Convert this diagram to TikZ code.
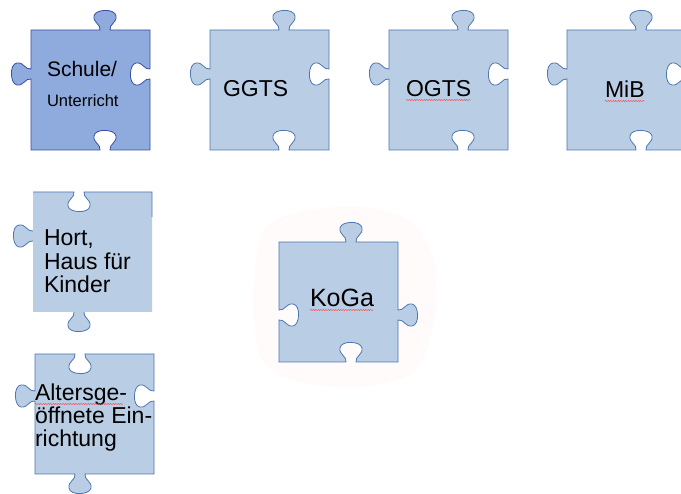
\documentclass[tikz,border=0pt]{standalone}
\usepackage{fontspec}
\setmainfont{Liberation Sans}
\usetikzlibrary{decorations.pathmorphing}

\definecolor{schulefill}{RGB}{143,170,220}
\definecolor{schuleline}{RGB}{58,78,168}
\definecolor{pzfill}{RGB}{185,205,229}
\definecolor{pzline}{RGB}{79,119,180}
\definecolor{blobpink}{RGB}{255,251,250}

\newcommand{\pztabtop}[4]{-- ({#1+#3-5},{#2}) .. controls ({#1+#3-4},{#2-(#4)*6}) and ({#1+#3-12},{#2-(#4)*7}) .. ({#1+#3-11},{#2-(#4)*14}) .. controls ({#1+#3-10},{#2-(#4)*21}) and ({#1+#3+10},{#2-(#4)*22}) .. ({#1+#3+11},{#2-(#4)*14}) .. controls ({#1+#3+12},{#2-(#4)*7}) and ({#1+#3+4},{#2-(#4)*6}) .. ({#1+#3+5},{#2})}
\newcommand{\pztabright}[4]{-- ({#1},{#2+#3-5}) .. controls ({#1+(#4)*6},{#2+#3-4}) and ({#1+(#4)*7},{#2+#3-12}) .. ({#1+(#4)*14},{#2+#3-11}) .. controls ({#1+(#4)*21},{#2+#3-10}) and ({#1+(#4)*22},{#2+#3+10}) .. ({#1+(#4)*14},{#2+#3+11}) .. controls ({#1+(#4)*7},{#2+#3+12}) and ({#1+(#4)*6},{#2+#3+4}) .. ({#1},{#2+#3+5})}
\newcommand{\pztabbottom}[4]{-- ({#1+#3+5},{#2}) .. controls ({#1+#3+4},{#2+(#4)*6}) and ({#1+#3+12},{#2+(#4)*7}) .. ({#1+#3+11},{#2+(#4)*14}) .. controls ({#1+#3+10},{#2+(#4)*21}) and ({#1+#3-10},{#2+(#4)*22}) .. ({#1+#3-11},{#2+(#4)*14}) .. controls ({#1+#3-12},{#2+(#4)*7}) and ({#1+#3-4},{#2+(#4)*6}) .. ({#1+#3-5},{#2})}
\newcommand{\pztableft}[4]{-- ({#1},{#2+#3+5}) .. controls ({#1-(#4)*6},{#2+#3+4}) and ({#1-(#4)*7},{#2+#3+12}) .. ({#1-(#4)*14},{#2+#3+11}) .. controls ({#1-(#4)*21},{#2+#3+10}) and ({#1-(#4)*22},{#2+#3-10}) .. ({#1-(#4)*14},{#2+#3-11}) .. controls ({#1-(#4)*7},{#2+#3-12}) and ({#1-(#4)*6},{#2+#3-4}) .. ({#1},{#2+#3-5})}
\newcommand{\pzpiece}[9]{\path[#1] (#2,#3) \pztabtop{#2}{#3}{#8}{#4} -- ({#2+119},#3) \pztabright{#2+119}{#3}{#9}{#5} -- ({#2+119},{#3+120}) \pztabbottom{#2}{#3+120}{#8}{#6} -- (#2,{#3+120}) \pztableft{#2}{#3}{#9}{#7} -- cycle;}

\tikzset{
    pzdark/.style={fill=schulefill, draw=schuleline, line width=0.8pt},
    pzlight/.style={fill=pzfill, draw=pzline, line width=0.8pt},
    pzlabel/.style={inner sep=0pt, outer sep=0pt, anchor=base west, align=left, text=black},
    spellline/.style={draw=red!75, line width=0.4pt, decorate, decoration={snake, amplitude=0.6pt, segment length=2.5pt}}
}

\begin{document}
\begin{tikzpicture}[x=1pt, y=-1pt]
    \clip (0,0) rectangle (681,494);
    \fill[white] (0,0) rectangle (681,494);
    \path[fill=blobpink] plot[smooth cycle] coordinates {(262,232) (300,212) (360,207) (412,222) (436,270) (432,330) (414,372) (360,387) (300,382) (262,360) (254,300)};
    \pzpiece{pzdark}{31}{30}{1}{-1}{-1}{1}{74}{44}
    \pzpiece{pzlight}{210}{30}{1}{-1}{-1}{1}{74}{44}
    \pzpiece{pzlight}{389}{30}{1}{-1}{-1}{1}{74}{44}
    \pzpiece{pzlight}{567}{30}{1}{-1}{-1}{1}{74}{44}
    \pzpiece{fill=pzfill}{33}{192}{-1}{0}{1}{1}{46}{44}
    \draw[pzline, line width=0.8pt] (33,192) \pztabtop{33}{192}{46}{-1} -- (152,192) -- (152,217);
    \draw[pzline, line width=0.8pt] (33,241) \pztableft{33}{192}{44}{1};
    \draw[pzline, line width=0.8pt] (84,312) \pztabbottom{33}{312}{46}{1};
    \pzpiece{pzlight}{35}{354}{-1}{-1}{1}{1}{45}{42}
    \pzpiece{pzlight}{279}{242}{1}{1}{-1}{-1}{72}{73}
    \node[pzlabel, font=\fontsize{21}{27}\selectfont] (schule) at (47,107) {Schule/\\[3pt]\fontsize{16.5}{20}\selectfont Unterricht};
    \node[pzlabel, font=\fontsize{23}{24}\selectfont] (ggts) at (223,97) {GGTS};
    \node[pzlabel, font=\fontsize{23}{24}\selectfont] (ogts) at (406,97) {OGTS};
    \node[pzlabel, font=\fontsize{23}{24}\selectfont] (mib) at (605,98) {MiB};
    \node[pzlabel, font=\fontsize{25}{26}\selectfont] (koga) at (310,307) {KoGa};
    \node[pzlabel, font=\fontsize{23}{23.5}\selectfont] (hort) at (44,293) {Hort,\\Haus für\\Kinder};
    \node[pzlabel, font=\fontsize{23}{23}\selectfont] (alters) at (35,447) {Altersge-\\öffnete Ein-\\richtung};
    \draw[spellline] ([yshift=-3pt]ogts.base west) -- ([yshift=-3pt]ogts.base east);
    \draw[spellline] ([yshift=-3pt]mib.base west) -- ([yshift=-3pt]mib.base east);
    \draw[spellline] ([yshift=-3pt]koga.base west) -- ([yshift=-3pt]koga.base east);
    \draw[spellline] (35,404) -- (123,404);
\end{tikzpicture}
\end{document}
